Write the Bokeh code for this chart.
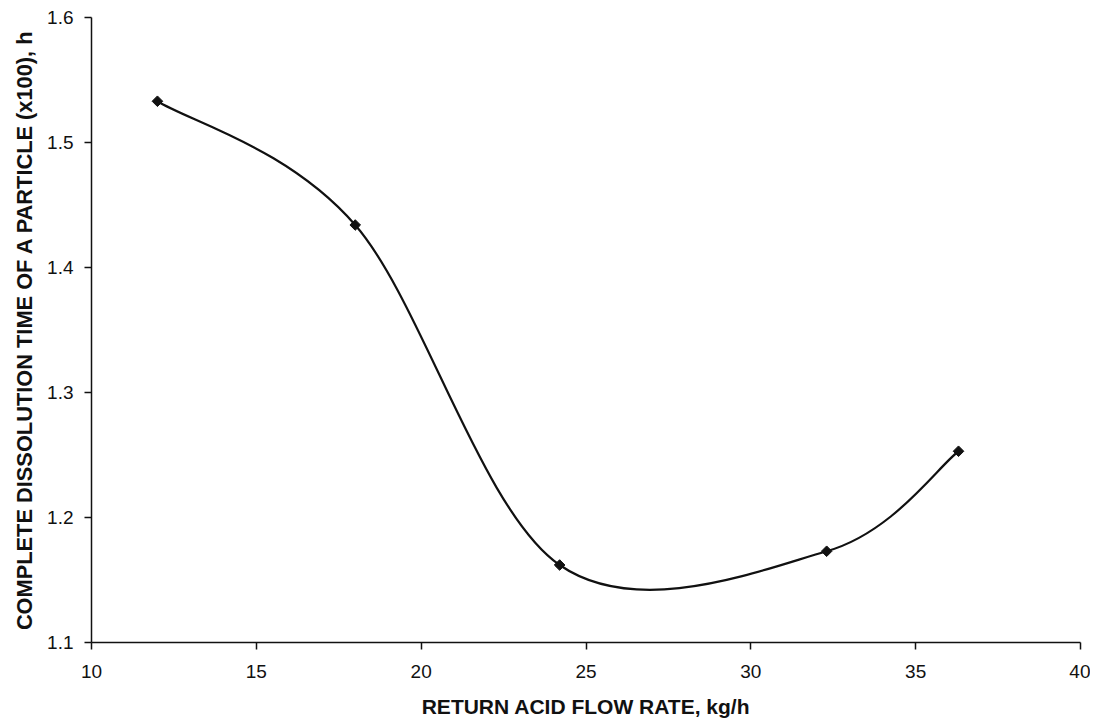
import numpy as np
from bokeh.plotting import figure
from bokeh.models import Range1d, FixedTicker, ColumnDataSource
from bokeh.embed import file_html
from bokeh.resources import INLINE

# Data
flow_rate = [12.0, 18.0, 24.2, 32.3, 36.3]              # kg/h
dissolution_time = [1.533, 1.434, 1.162, 1.173, 1.253]  # h (x100)
x_ticks = [10, 15, 20, 25, 30, 35, 40]
y_ticks = [1.1, 1.2, 1.3, 1.4, 1.5, 1.6]

FONT = "Liberation Sans"

p = figure(width=1090, height=720, output_backend="svg", toolbar_location=None,
           x_range=Range1d(10, 40), y_range=Range1d(1.1, 1.6),
           min_border_left=91, min_border_right=10, min_border_top=17, min_border_bottom=78)
p.outline_line_color = None
p.xgrid.visible = False
p.ygrid.visible = False
p.background_fill_color = "white"
p.border_fill_color = "white"

# Smoothed line (Catmull-Rom style Bezier segments, like a spreadsheet smoothed line)
xs = np.array(flow_rate)
ys = np.array(dissolution_time)
n = len(xs)
x0, y0, x1, y1, cx0, cy0, cx1, cy1 = [], [], [], [], [], [], [], []
for i in range(n - 1):
    im1 = max(i - 1, 0)
    ip2 = min(i + 2, n - 1)
    x0.append(xs[i]); y0.append(ys[i])
    x1.append(xs[i + 1]); y1.append(ys[i + 1])
    cx0.append(xs[i] + (xs[i + 1] - xs[im1]) / 6.0)
    cy0.append(ys[i] + (ys[i + 1] - ys[im1]) / 6.0)
    cx1.append(xs[i + 1] - (xs[ip2] - xs[i]) / 6.0)
    cy1.append(ys[i + 1] - (ys[ip2] - ys[i]) / 6.0)
bsrc = ColumnDataSource(dict(x0=x0, y0=y0, x1=x1, y1=y1, cx0=cx0, cy0=cy0, cx1=cx1, cy1=cy1))
p.bezier(x0="x0", y0="y0", x1="x1", y1="y1", cx0="cx0", cy0="cy0", cx1="cx1", cy1="cy1",
         source=bsrc, line_color="#111111", line_width=2.2)

p.scatter(flow_rate, dissolution_time, marker="square", angle=np.pi / 4, size=7.5,
          fill_color="#111111", line_color="#111111")

for ax in (p.xaxis[0], p.yaxis[0]):
    ax.axis_line_color = "#111111"
    ax.axis_line_width = 1.5
    ax.major_tick_line_color = "#111111"
    ax.major_tick_line_width = 1.5
    ax.major_tick_out = 7
    ax.major_tick_in = 0
    ax.minor_tick_line_color = None
    ax.major_label_text_font = FONT
    ax.major_label_text_font_size = "19px"
    ax.major_label_text_color = "#111111"
    ax.axis_label_text_font = FONT
    ax.axis_label_text_font_size = "21px"
    ax.axis_label_text_font_style = "bold"
    ax.axis_label_text_color = "#111111"

p.yaxis.axis_label_text_font_size = "21.8px"
p.xaxis.ticker = FixedTicker(ticks=x_ticks)
p.yaxis.ticker = FixedTicker(ticks=y_ticks)
p.xaxis.major_label_standoff = 15
p.yaxis.major_label_standoff = 11
p.xaxis.axis_label = "RETURN ACID FLOW RATE, kg/h"
p.yaxis.axis_label = "COMPLETE DISSOLUTION TIME OF A PARTICLE (x100), h"
p.xaxis.axis_label_standoff = 14
p.yaxis.axis_label_standoff = 7

open("out.html", "w").write(file_html(p, INLINE))
